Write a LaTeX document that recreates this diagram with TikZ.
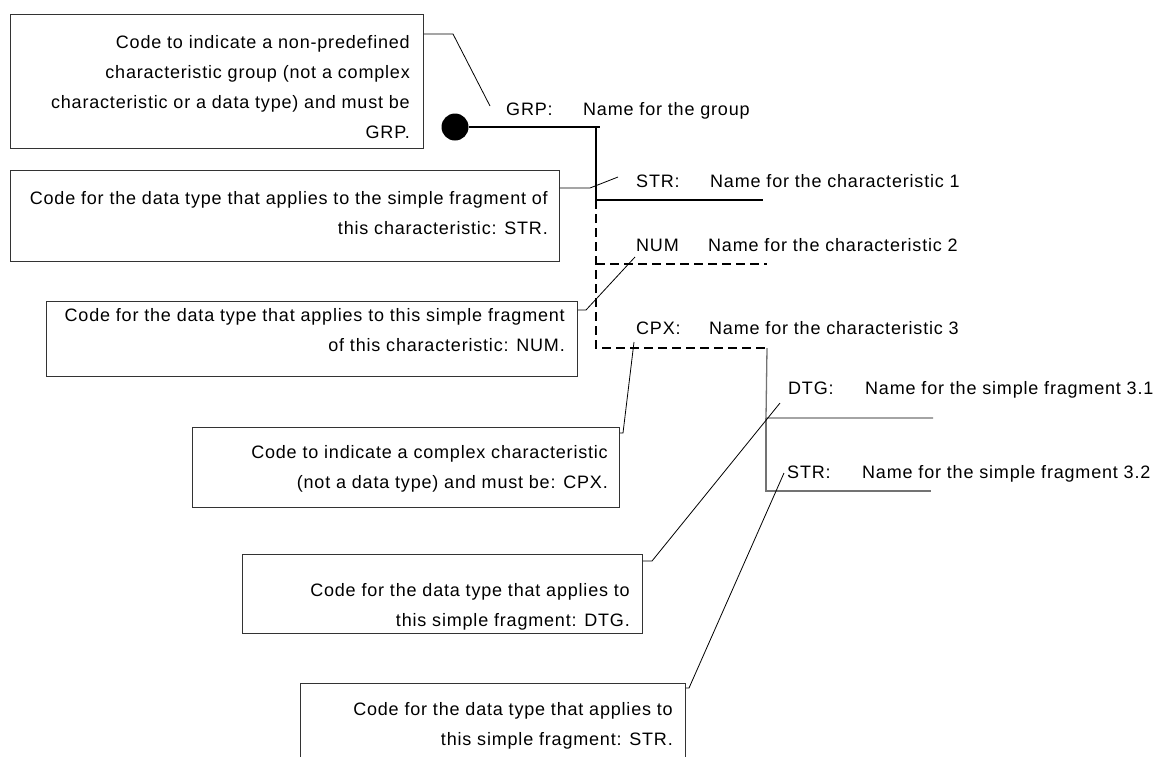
\documentclass[tikz,border=0pt]{standalone}
\usepackage{fontspec}
\setmainfont{Liberation Sans}[LetterSpace=4.5]
\begin{document}
\begin{tikzpicture}[x=1pt,y=-1pt,
  box/.style={draw=black!80, line width=0.9pt, rectangle, inner sep=0pt, anchor=north west},
  boxtext/.style={anchor=north east, align=right, inner sep=0pt, font=\fontsize{18}{30}\selectfont},
  lbl/.style={anchor=base west, inner sep=0pt, font=\fontsize{18}{22}\selectfont},
  tree/.style={line width=1.1pt},
  dtree/.style={line width=1.6pt, dash pattern=on 8.5pt off 5.5pt},
  gtree/.style={line width=1.3pt, draw=black!55},
  callout/.style={line width=0.8pt},
]
\clip (0,0) rectangle (1157,756);

% explanation boxes
\node[box, minimum width=413pt, minimum height=134pt] (grpbox) at (10,14) {};
\node[box, minimum width=549pt, minimum height=91pt]  (strbox) at (10,170) {};
\node[box, minimum width=531pt, minimum height=75pt]  (numbox) at (46,301) {};
\node[box, minimum width=427pt, minimum height=80pt]  (cpxbox) at (192,427) {};
\node[box, minimum width=400pt, minimum height=79pt]  (dtgbox) at (242,554) {};
\node[box, minimum width=385pt, minimum height=90pt]  (strtwobox) at (300,683) {};

\node[boxtext] (grptext) at (410,35) {Code to indicate a non-predefined\\characteristic group (not a complex\\characteristic or a data type) and must be\\GRP.};
\node[boxtext] (strtext) at (548,191) {Code for the data type that applies to the simple fragment of\\this characteristic: STR.};
\node[boxtext] (numtext) at (565,308) {Code for the data type that applies to this simple fragment\\of this characteristic: NUM.};
\node[boxtext] (cpxtext) at (608,445) {Code to indicate a complex characteristic\\(not a data type) and must be: CPX.};
\node[boxtext] (dtgtext) at (630,583) {Code for the data type that applies to\\this simple fragment: DTG.};
\node[boxtext] (strtwotext) at (673,702) {Code for the data type that applies to\\this simple fragment: STR.};

% structure labels
\node[lbl] (grpcode) at (506,115) {GRP:};
\node[lbl] (grpname) at (583,115) {Name for the group};
\node[lbl] (strcode) at (636,187) {STR:};
\node[lbl] (strname) at (710,187) {Name for the characteristic 1};
\node[lbl] (numcode) at (636,251) {NUM};
\node[lbl] (numname) at (708,251) {Name for the characteristic 2};
\node[lbl] (cpxcode) at (636,334) {CPX:};
\node[lbl] (cpxname) at (709,334) {Name for the characteristic 3};
\node[lbl] (dtgcode) at (788,394) {DTG:};
\node[lbl] (dtgname) at (865,394) {Name for the simple fragment 3.1};
\node[lbl] (strtwocode) at (787,478) {STR:};
\node[lbl] (strtwoname) at (862,478) {Name for the simple fragment 3.2};

% tree of the group
\node[circle, fill=black, minimum size=27pt, inner sep=0pt] (dot) at (455,127) {};
\coordinate (jg) at (596,127);  \coordinate (jgend) at (600,127);
\coordinate (js) at (596,200);  \coordinate (jsend) at (763,200);
\coordinate (jn) at (596,264);  \coordinate (jnend) at (767,264);
\coordinate (jc) at (596,348);  \coordinate (jcend) at (767,348);
\coordinate (jd) at (766,418);  \coordinate (jdend) at (933,418);
\coordinate (jt) at (766,491);  \coordinate (jtend) at (931,491);

\draw[tree] (dot.east) -- (jgend);
\draw[tree] (jg) -- (js) -- (jsend);
\draw[dtree] (js) -- (jc) -- (jcend);
\draw[dtree] (jn) -- (jnend);
\draw[gtree] (jcend) -- (jd) -- (jdend);
\draw[gtree] (jd) -- (jt) -- (jtend);

% callout leaders
\coordinate (cg) at (453,34);   \coordinate (cgend) at (490,106);
\coordinate (cs) at (590,188);  \coordinate (csend) at (618,177);
\coordinate (cn) at (586,310);  \coordinate (cnend) at (635,257);
\coordinate (cc) at (623,433);  \coordinate (ccend) at (634,342);
\coordinate (cd) at (652,561);  \coordinate (cdend) at (780,403);
\coordinate (ct) at (689,688);  \coordinate (ctend) at (784,473);

\draw[callout] (grpbox.east |- cg) -- (cg) -- (cgend);
\draw[callout] (strbox.east |- cs) -- (cs) -- (csend);
\draw[callout] (numbox.east |- cn) -- (cn) -- (cnend);
\draw[callout] (cpxbox.east |- cc) -- (cc) -- (ccend);
\draw[callout] (dtgbox.east |- cd) -- (cd) -- (cdend);
\draw[callout] (strtwobox.east |- ct) -- (ct) -- (ctend);
\end{tikzpicture}
\end{document}
